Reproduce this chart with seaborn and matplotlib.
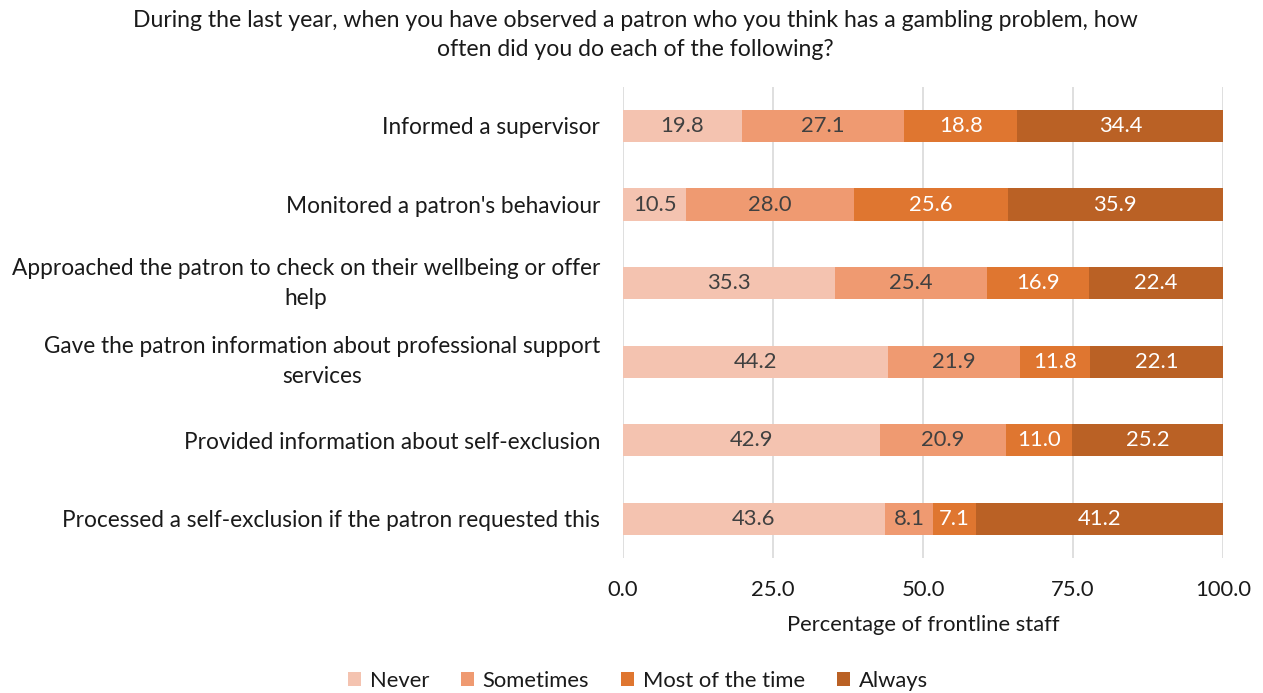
import numpy as np
import pandas as pd
import matplotlib
matplotlib.use("Agg")
import matplotlib.pyplot as plt
import seaborn as sns
from matplotlib.patches import Patch

categories = [
    "Informed a supervisor",
    "Monitored a patron's behaviour",
    "Approached the patron to check on their wellbeing or offer\nhelp",
    "Gave the patron information about professional support\nservices",
    "Provided information about self-exclusion",
    "Processed a self-exclusion if the patron requested this",
]
series_names = ["Never", "Sometimes", "Most of the time", "Always"]
never = [19.8, 10.5, 35.3, 44.2, 42.9, 43.6]
sometimes = [27.1, 28.0, 25.4, 21.9, 20.9, 8.1]
most = [18.8, 25.6, 16.9, 11.8, 11.0, 7.1]
always = [34.4, 35.9, 22.4, 22.1, 25.2, 41.2]
xticks = [0, 25, 50, 75, 100]

colors = ["#F4C3B0", "#EF9A71", "#DF7630", "#BA6125"]
label_colors = ["#404040", "#404040", "white", "white"]
FS = 15.8
TXT = "#1a1a1a"

sns.set_theme(style="white")
plt.rcParams['font.family'] = ['Lato', 'DejaVu Sans']

fig = plt.figure(figsize=(12.63, 6.93), dpi=100)
ax = fig.add_axes([0.4933, 0.1944, 0.4750, 0.6805])

values = [never, sometimes, most, always]
cum = np.cumsum(np.array(values), axis=0)

# draw from largest cumulative to smallest so segments appear stacked
for k in range(3, -1, -1):
    d = pd.DataFrame({"cat": categories, "val": cum[k]})
    sns.barplot(data=d, x="val", y="cat", orient="h", color=colors[k],
                width=0.41, ax=ax, saturation=1, edgecolor="none")

for k in range(4):
    for i, v in enumerate(values[k]):
        start = cum[k][i] - v
        ax.text(start + v / 2, i, f"{v:.1f}", ha="center", va="center",
                fontsize=FS, color=label_colors[k])

ax.set_xlim(0, 100)
ax.set_ylim(5.5, -0.5)
ax.set_xticks(xticks)
ax.set_xticklabels([f"{t:.1f}" for t in xticks], fontsize=FS, color=TXT)
ax.tick_params(axis="x", length=0, pad=15.5)
ax.tick_params(axis="y", length=0, pad=16.5)
for lbl in ax.get_yticklabels():
    lbl.set_fontsize(16.3)
    lbl.set_color(TXT)
    lbl.set_multialignment("center")
    lbl.set_linespacing(1.55)
    if "\n" in lbl.get_text():
        lbl.set_verticalalignment("center")
ax.set_ylabel("")
ax.set_xlabel("Percentage of frontline staff", fontsize=FS, color=TXT, labelpad=11)
ax.grid(axis="x", color="#D9D9D9", linewidth=1.2)
ax.set_axisbelow(True)
for s in ax.spines.values():
    s.set_visible(False)

fig.text(0.503, 0.9495,
         "During the last year, when you have observed a patron who you think has a gambling problem, how\noften did you do each of the following?",
         ha="center", va="center", fontsize=16.6, color=TXT, linespacing=1.5)

handles = [Patch(facecolor=c, edgecolor="none") for c in colors]
fig.legend(handles, series_names, loc="center", bbox_to_anchor=(0.505, 0.018),
           ncol=4, frameon=False, fontsize=FS, handlelength=0.6, handleheight=0.6,
           handletextpad=0.4, columnspacing=1.45, labelcolor=TXT)

fig.savefig("out.png", dpi=100)
